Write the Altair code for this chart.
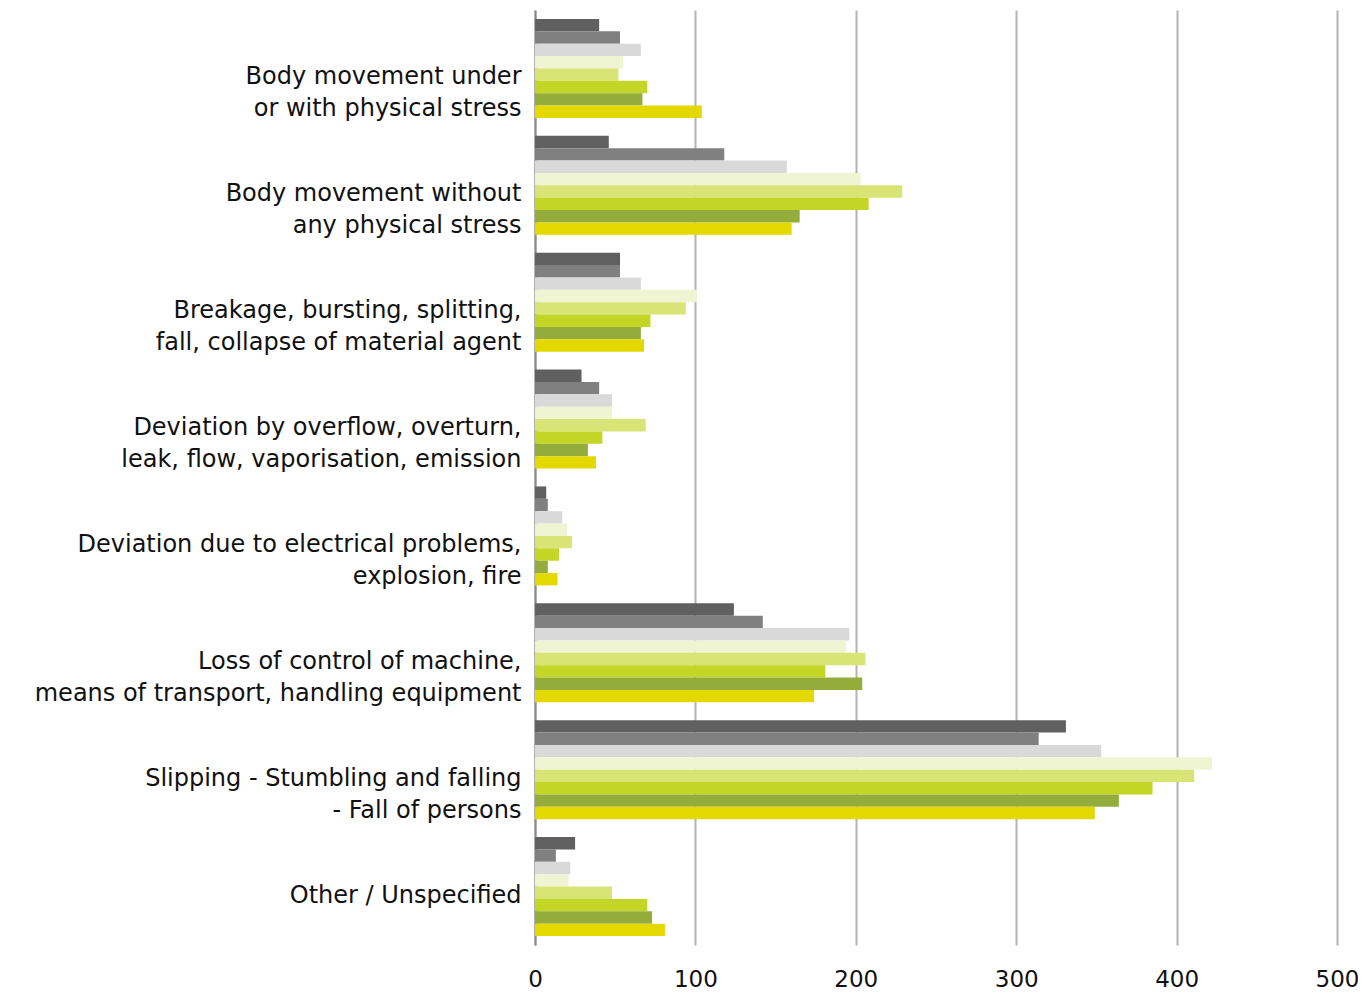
import altair as alt
import pandas as pd

categories = [
    "Body movement under|or with physical stress",
    "Body movement without|any physical stress",
    "Breakage, bursting, splitting,|fall, collapse of material agent",
    "Deviation by overflow, overturn,|leak, flow, vaporisation, emission",
    "Deviation due to electrical problems,|explosion, fire",
    "Loss of control of machine,|means of transport, handling equipment",
    "Slipping - Stumbling and falling|- Fall of persons",
    "Other / Unspecified",
]

series = ["Series 1", "Series 2", "Series 3", "Series 4",
          "Series 5", "Series 6", "Series 7", "Series 8"]

colors = ["#606060", "#808080", "#d9d9d9", "#eff4d3",
          "#d8e475", "#c3d626", "#94ac3c", "#e3d800"]

s1 = [40, 46, 53, 29, 7, 124, 331, 25]
s2 = [53, 118, 53, 40, 8, 142, 314, 13]
s3 = [66, 157, 66, 48, 17, 196, 353, 22]
s4 = [55, 203, 101, 48, 20, 194, 422, 21]
s5 = [52, 229, 94, 69, 23, 206, 411, 48]
s6 = [70, 208, 72, 42, 15, 181, 385, 70]
s7 = [67, 165, 66, 33, 8, 204, 364, 73]
s8 = [104, 160, 68, 38, 14, 174, 349, 81]

values = [s1, s2, s3, s4, s5, s6, s7, s8]

rows = []
for si, name in enumerate(series):
    for ci, cat in enumerate(categories):
        rows.append({"category": cat, "series": name, "value": values[si][ci]})
df = pd.DataFrame(rows)

FONT = "DejaVu Sans"

chart = alt.Chart(df).mark_bar().encode(
    y=alt.Y(
        "category:N",
        sort=categories,
        scale=alt.Scale(paddingInner=0.153, paddingOuter=0.0765),
        axis=alt.Axis(
            title=None,
            ticks=False,
            domain=True,
            domainColor="#8a8a8a",
            domainWidth=2,
            labelExpr="split(datum.label, '|')",
            labelBaseline="top",
            labelOffset=-3,
            labelLineHeight=32,
            labelPadding=14,
            labelFont=FONT,
            labelFontSize=24,
            labelColor="#111111",
            labelLimit=600,
        ),
    ),
    yOffset=alt.YOffset("series:N", sort=series),
    x=alt.X(
        "value:Q",
        scale=alt.Scale(domain=[0, 500], nice=False),
        axis=alt.Axis(
            title=None,
            values=[0, 100, 200, 300, 400, 500],
            ticks=False,
            domain=False,
            grid=True,
            gridColor="#b3b3b3",
            gridWidth=2,
            labelPadding=23,
            labelFont=FONT,
            labelFontSize=23,
            labelColor="#111111",
            labelFlush=False,
        ),
    ),
    color=alt.Color(
        "series:N",
        scale=alt.Scale(domain=series, range=colors),
        legend=None,
    ),
).properties(
    width=802,
    height=935,
    autosize="none",
    padding={"left": 527, "top": 2, "right": 21, "bottom": 46},
).configure_view(
    stroke=None
)

chart.save("out.html", embed_options={"renderer": "svg", "actions": False})
